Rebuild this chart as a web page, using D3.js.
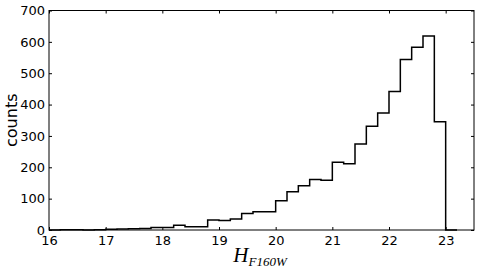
<!DOCTYPE html>
<html>
<head>
<meta charset="utf-8">
<script src="https://cdn.jsdelivr.net/npm/d3@7"></script>
<style>
  body { margin: 0; background: #fff; }
</style>
</head>
<body>
<div id="chart"></div>
<script>
// bin left edges (width 0.2) and counts
const binStart = 16.0;
const binWidth = 0.2;
const counts = [0, 1, 1, 0, 1, 2, 3, 4, 5, 8, 8, 15, 10, 10, 32, 30, 35, 53, 58, 58,
  93, 122, 141, 161, 159, 216, 211, 274, 331, 373, 442, 544, 583, 619, 345, 0];
const xTicks = [16, 17, 18, 19, 20, 21, 22, 23];
const yTicks = [0, 100, 200, 300, 400, 500, 600, 700];

const W = 480, H = 272;
const margin = { top: 10.5, right: 6, bottom: 42, left: 49 };

const svg = d3.select("#chart").append("svg").attr("width", W).attr("height", H);

const x = d3.scaleLinear().domain([16, 23.5]).range([margin.left, W - margin.right]);
const y = d3.scaleLinear().domain([0, 700]).range([H - margin.bottom, margin.top]);

// step outline
const pts = [];
counts.forEach(function (c, i) {
  const x0 = binStart + i * binWidth;
  pts.push([x0, c], [x0 + binWidth, c]);
});
pts.unshift([binStart, 0]);
pts.push([binStart + counts.length * binWidth, 0]);

svg.append("path")
  .attr("d", d3.line().x(d => x(d[0])).y(d => y(d[1]))(pts))
  .attr("fill", "none")
  .attr("stroke", "#000")
  .attr("stroke-width", 1.5);

// frame
svg.append("rect")
  .attr("x", x(16)).attr("y", y(700))
  .attr("width", x(23.5) - x(16)).attr("height", y(0) - y(700))
  .attr("fill", "none").attr("stroke", "#000").attr("stroke-width", 1);

// axes, ticks inside
const xAxis = svg.append("g").attr("transform", "translate(0," + y(0) + ")")
  .call(d3.axisBottom(x).tickValues(xTicks).tickSize(-3).tickPadding(6).tickFormat(d3.format("d")));
const xTop = svg.append("g").attr("transform", "translate(0," + y(700) + ")")
  .call(d3.axisTop(x).tickValues(xTicks).tickSize(-3).tickFormat(""));
const yAxis = svg.append("g").attr("transform", "translate(" + x(16) + ",0)")
  .call(d3.axisLeft(y).tickValues(yTicks).tickSize(-3).tickPadding(4).tickFormat(d3.format("d")));
const yRight = svg.append("g").attr("transform", "translate(" + x(23.5) + ",0)")
  .call(d3.axisRight(y).tickValues(yTicks).tickSize(-3).tickFormat(""));

[xAxis, xTop, yAxis, yRight].forEach(function (g) {
  g.select(".domain").remove();
  g.selectAll("line").attr("stroke", "#000");
  g.selectAll("text").attr("font-size", 13).attr("fill", "#000")
    .style("font-family", "DejaVu Sans, sans-serif");
});

// labels
svg.append("text")
  .attr("transform", "translate(17," + ((y(0) + y(700)) / 2) + ") rotate(-90)")
  .attr("text-anchor", "middle")
  .attr("font-size", 16)
  .style("font-family", "DejaVu Sans, sans-serif")
  .text("counts");

const xl = svg.append("text")
  .attr("x", 260).attr("y", 262)
  .attr("text-anchor", "middle")
  .style("font-family", "'Liberation Serif', serif")
  .style("font-style", "italic");
xl.append("tspan").attr("font-size", 21).text("H");
xl.append("tspan").attr("font-size", 13).attr("dy", 4).text("F160W");
</script>
</body>
</html>
